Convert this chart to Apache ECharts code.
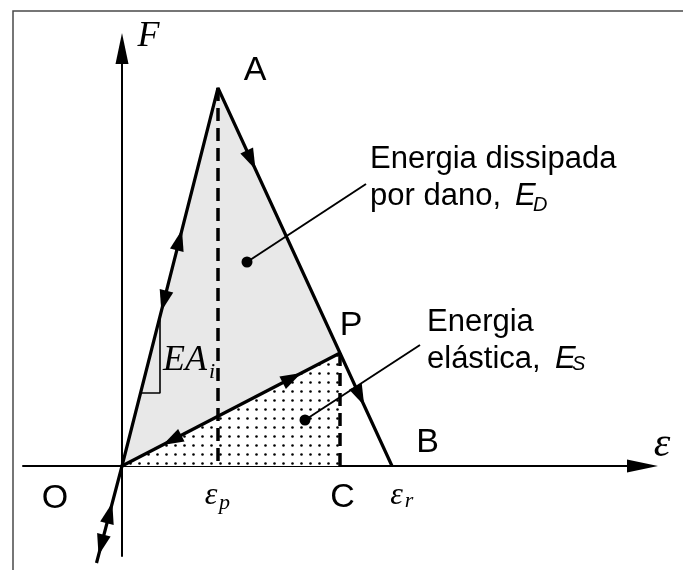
<!DOCTYPE html>
<html lang="pt">
<head>
<meta charset="UTF-8">
<title>Energia dissipada por dano</title>
<style>
  html, body { margin: 0; padding: 0; background: #fff; }
  #main { width: 683px; height: 570px; }
</style>
</head>
<body>
<div id="main"></div>
<script src="https://cdn.jsdelivr.net/npm/echarts@6.0.0/dist/echarts.min.js"></script>
<script type="text/javascript">
// pontos do diagrama F x eps (1 unidade = 10 px)
var ptO = [0, 0];
var ptA = [9.6, 37.8];
var ptP = [21.8, 11.3];
var ptB = [27, 0];
var ptC = [21.8, 0];
var ptLow = [-2.55, -9.7];

var loadPath = [ptLow, ptO, ptA, ptB];
var unloadPath = [ptO, ptP];
var dissipArea = [ptO, ptA, ptP];
var elasticArea = [ptO, ptP];
var dashEp = [ptA, [ptA[0], 0]];
var dashC = [ptP, ptC];
var slopeTri = [[1.85, 7.3], [3.8, 7.3], [3.8, 14.96]];
var leaderD = [[12.5, 20.4], [24.4, 28.2]];
var leaderS = [[18.3, 4.6], [29.8, 12.1]];

// setas: posição + segmento que dá o sentido
var arrows = [
    [[5.74, 22.6], ptO, ptA],
    [[4.19, 16.5], ptA, ptO],
    [[12.91, 30.6], ptA, ptB],
    [[23.78, 7.0], ptA, ptB],
    [[17.0, 8.81], ptO, ptP],
    [[5.0, 2.59], ptP, ptO],
    [[-1.24, -4.7], ptLow, ptO],
    [[-2.08, -7.9], ptO, ptLow]
];

// textos: [texto, x, y, estilo]
var labels = [
    ['A', 13.3, 39.5, 'big'],
    ['P', 22.9, 14.0, 'big'],
    ['B', 30.55, 2.3, 'big'],
    ['C', 22.05, -3.15, 'big'],
    ['O', -6.7, -3.3, 'big'],
    ['Energia dissipada', 24.8, 30.7, 'txt'],
    ['por dano,', 24.8, 27.0, 'txt'],
    ['E', 39.3, 27.0, 'it'],
    ['D', 41.1, 26.1, 'itSub'],
    ['Energia', 30.5, 14.4, 'txt'],
    ['elástica,', 30.5, 10.7, 'txt'],
    ['E', 43.3, 10.7, 'it'],
    ['S', 45.0, 10.2, 'itSub'],
    ['F', 2.65, 42.9, 'math'],
    ['EA', 6.3, 10.55, 'math'],
    ['i', 9.0, 9.4, 'mathSub'],
    ['ε', 8.9, -3.0, 'eps'],
    ['p', 10.25, -3.7, 'mathSub'],
    ['ε', 27.45, -3.0, 'eps'],
    ['r', 28.7, -3.55, 'mathSub'],
    ['ε', 54.0, 2.1, 'epsAxis']
];

var textStyles = {
    big: { fontFamily: 'Liberation Sans', fontSize: 34, align: 'center' },
    txt: { fontFamily: 'Liberation Sans', fontSize: 31, align: 'left' },
    it: { fontFamily: 'Liberation Sans', fontSize: 31, fontStyle: 'italic', align: 'left' },
    itSub: { fontFamily: 'Liberation Sans', fontSize: 20, fontStyle: 'italic', align: 'left' },
    math: { fontFamily: 'Liberation Serif', fontSize: 36, fontStyle: 'italic', align: 'center' },
    mathSub: { fontFamily: 'Liberation Serif', fontSize: 22, fontStyle: 'italic', align: 'center' },
    eps: { fontFamily: 'Liberation Serif', fontSize: 32, fontStyle: 'italic', align: 'center' },
    epsAxis: { fontFamily: 'Liberation Serif', fontSize: 42, fontStyle: 'italic', align: 'center' }
};

// padrão pontilhado da energia elástica
var dotTile = document.createElement('canvas');
dotTile.width = 9;
dotTile.height = 9;
var ctx = dotTile.getContext('2d');
ctx.fillStyle = '#fff';
ctx.fillRect(0, 0, 9, 9);
ctx.fillStyle = '#000';
ctx.beginPath();
ctx.arc(4.5, 4.5, 1.3, 0, Math.PI * 2);
ctx.fill();

function arrowItem(a) {
    var dx = a[2][0] - a[1][0], dy = a[2][1] - a[1][1];
    var ang = Math.atan2(dy, dx) * 180 / Math.PI;
    return { value: a[0], symbolRotate: ang - 90 };
}

function labelItem(l) {
    var st = textStyles[l[3]];
    return {
        value: [l[1], l[2]],
        label: {
            show: true,
            position: 'inside',
            formatter: l[0],
            color: '#000',
            opacity: 1,
            fontFamily: st.fontFamily,
            fontSize: st.fontSize,
            fontStyle: st.fontStyle || 'normal',
            align: st.align,
            verticalAlign: 'middle'
        }
    };
}

function lineSeries(data, width, type) {
    return {
        type: 'line',
        data: data,
        symbol: 'none',
        clip: false,
        silent: true,
        lineStyle: { color: '#000', width: width, type: type || 'solid', cap: 'butt', opacity: 1 },
        z: 3
    };
}

var myChart = echarts.init(document.getElementById('main'));
myChart.setOption({
    animation: false,
    backgroundColor: '#fff',
    graphic: [{
        type: 'rect',
        shape: { x: 13, y: 11, width: 720, height: 600 },
        style: { fill: null, stroke: '#4a4a4a', lineWidth: 1.5 },
        silent: true
    }],
    grid: { left: 23, right: 40.5, top: 48.5, bottom: 14 },
    xAxis: {
        type: 'value', min: -9.9, max: 52.05,
        axisLine: { onZero: true, symbol: ['none', 'triangle'], symbolSize: [13, 31], lineStyle: { color: '#000', width: 2 } },
        axisTick: { show: false }, axisLabel: { show: false }, splitLine: { show: false }
    },
    yAxis: {
        type: 'value', min: -9, max: 41.75,
        axisLine: { onZero: true, symbol: ['none', 'triangle'], symbolSize: [13, 31], lineStyle: { color: '#000', width: 2 } },
        axisTick: { show: false }, axisLabel: { show: false }, splitLine: { show: false }
    },
    series: [
        {
            type: 'line', data: dissipArea, symbol: 'none', silent: true,
            lineStyle: { width: 0, opacity: 0 },
            areaStyle: { color: '#e8e8e8', opacity: 1 }, z: 1
        },
        {
            type: 'line', data: elasticArea, symbol: 'none', silent: true,
            lineStyle: { width: 0, opacity: 0 },
            areaStyle: { color: { image: dotTile, repeat: 'repeat' }, opacity: 1 }, z: 1
        },
        lineSeries(dashEp, 3.5, [13, 7]),
        lineSeries(dashC, 3.5, [13, 7]),
        lineSeries(loadPath, 3.2),
        lineSeries(unloadPath, 3.2),
        lineSeries(slopeTri, 1.6),
        lineSeries(leaderD, 2),
        lineSeries(leaderS, 2),
        {
            type: 'scatter', silent: true, clip: false, z: 4,
            symbol: 'circle', symbolSize: 11,
            itemStyle: { color: '#000', opacity: 1 },
            data: [leaderD[0], leaderS[0]]
        },
        {
            type: 'scatter', silent: true, clip: false, z: 4,
            symbol: 'triangle', symbolSize: [14, 21],
            itemStyle: { color: '#000', opacity: 1 },
            data: arrows.map(arrowItem)
        },
        {
            type: 'scatter', silent: true, clip: false, z: 5,
            symbol: 'circle', symbolSize: 1,
            itemStyle: { color: 'rgba(0,0,0,0)', opacity: 1 },
            data: labels.map(labelItem)
        }
    ]
});
</script>
</body>
</html>
